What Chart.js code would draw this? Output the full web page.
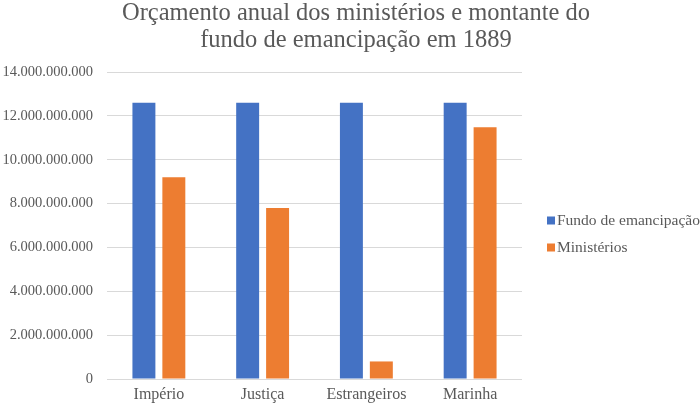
<!DOCTYPE html>
<html>
<head>
<meta charset="utf-8">
<script src="https://cdn.jsdelivr.net/npm/chart.js@4"></script>
<style>
  body { margin: 0; background: #fff; }
  #wrap { width: 700px; height: 406px; }
</style>
</head>
<body>
<div id="wrap"><canvas id="chart"></canvas></div>
<script>
const categories = ['Império', 'Justiça', 'Estrangeiros', 'Marinha'];
const fundoValues = [12600000000, 12600000000, 12600000000, 12600000000];
const ministeriosValues = [9200000000, 7800000000, 800000000, 11480000000];
const titleLines = ['Orçamento anual dos ministérios e montante do', 'fundo de emancipação em 1889'];

const serif = "'Liberation Serif', 'DejaVu Serif', serif";
const textColor = '#595959';

function formatPt(v) {
    return String(v).replace(/\B(?=(\d{3})+(?!\d))/g, '.');
}

// title and legend drawn by hand: the built-in ones get squeezed by the right padding
const decorations = {
    id: 'decorations',
    afterDraw(chart) {
        const ctx = chart.ctx;
        ctx.save();
        ctx.fillStyle = textColor;
        ctx.textAlign = 'center';
        ctx.textBaseline = 'alphabetic';
        ctx.font = '24.5px ' + serif;
        titleLines.forEach((line, i) => ctx.fillText(line, 356, 20 + i * 27));

        ctx.font = '15.5px ' + serif;
        ctx.textBaseline = 'middle';
        ctx.textAlign = 'left';
        chart.data.datasets.forEach((ds, i) => {
            const y = 216.5 + i * 27;
            ctx.fillStyle = ds.backgroundColor;
            ctx.fillRect(547, y, 8, 8);
            ctx.fillStyle = textColor;
            ctx.fillText(ds.label, 557, y + 4);
        });
        ctx.restore();
    }
};

new Chart(document.getElementById('chart'), {
    type: 'bar',
    data: {
        labels: categories,
        datasets: [{
            label: 'Fundo de emancipação',
            data: fundoValues,
            backgroundColor: '#4472c4',
            categoryPercentage: 0.577,
            barPercentage: 0.767
        }, {
            label: 'Ministérios',
            data: ministeriosValues,
            backgroundColor: '#ed7d31',
            categoryPercentage: 0.577,
            barPercentage: 0.767
        }]
    },
    options: {
        responsive: true,
        maintainAspectRatio: false,
        animation: false,
        layout: { padding: { left: 0, right: 178, top: 72, bottom: 0 } },
        plugins: {
            title: { display: false },
            legend: { display: false },
            tooltip: { enabled: false }
        },
        scales: {
            x: {
                grid: { display: false, drawTicks: false },
                border: { display: false },
                ticks: { color: textColor, font: { family: serif, size: 16 }, padding: 6 },
                afterFit: s => { s.height = 27; }
            },
            y: {
                min: 0,
                max: 14000000000,
                ticks: {
                    stepSize: 2000000000,
                    color: textColor,
                    font: { family: serif, size: 14.5 },
                    padding: 14,
                    callback: v => formatPt(v)
                },
                grid: { color: '#d9d9d9', drawTicks: false },
                border: { display: false },
                afterFit: s => { s.width = 107; }
            }
        }
    },
    plugins: [decorations]
});
</script>
</body>
</html>
